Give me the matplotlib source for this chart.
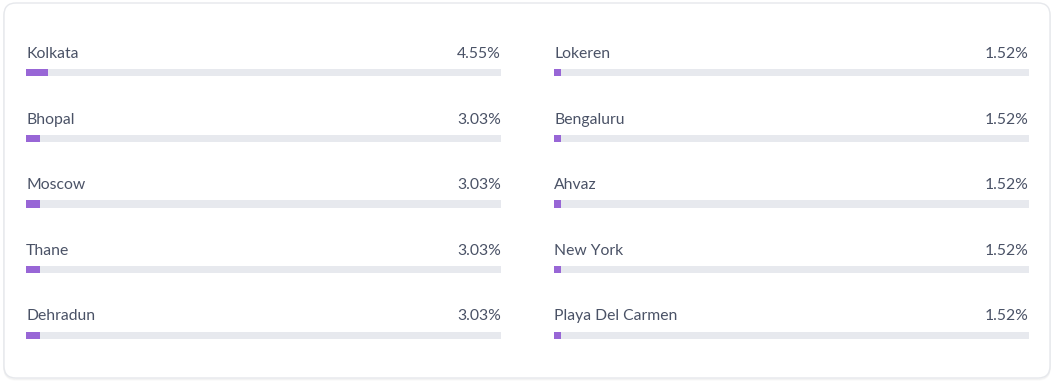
import matplotlib
matplotlib.use("Agg")
import matplotlib.pyplot as plt
from matplotlib.patches import FancyBboxPatch
from matplotlib.transforms import IdentityTransform

# data
left_cities = ["Kolkata", "Bhopal", "Moscow", "Thane", "Dehradun"]
left_share = [4.55, 3.03, 3.03, 3.03, 3.03]
right_cities = ["Lokeren", "Bengaluru", "Ahvaz", "New York", "Playa Del Carmen"]
right_share = [1.52, 1.52, 1.52, 1.52, 1.52]

W, H = 1055, 383
purple = "#9866D6"
track = "#E7E9EE"
txt = "#4A5266"

plt.rcParams['font.family'] = ['Lato', 'DejaVu Sans']

fig = plt.figure(figsize=(W / 100, H / 100), dpi=100)
fig.patch.set_facecolor("white")

# card with faint shadow
for off, a in [(2, 0.02), (1, 0.035)]:
    sh = FancyBboxPatch((4, 5 - off), 1046, 375, boxstyle="round,pad=0,rounding_size=12",
                        transform=IdentityTransform(), facecolor="none",
                        edgecolor=(0, 0, 0, a), linewidth=1.2, zorder=0)
    fig.patches.append(sh)
card = FancyBboxPatch((4, 5), 1046, 375, boxstyle="round,pad=0,rounding_size=12",
                      transform=IdentityTransform(), facecolor="white",
                      edgecolor="#E6E8EC", linewidth=1, zorder=0.5)
fig.patches.append(card)


def column(x0, cities, share):
    ax = fig.add_axes([x0 / W, (H - 368) / H, 475 / W, 328 / H])
    ax.set_zorder(2)
    ax.set_facecolor("none")
    ys = list(range(len(cities)))
    ax.barh(ys, [100] * len(cities), height=0.107, color=track, left=0)
    ax.barh(ys, share, height=0.107, color=purple, left=0)
    for y, c, s in zip(ys, cities, share):
        ax.text(0, y - 0.225, c, ha="left", va="baseline", fontsize=11.3, color=txt)
        ax.text(100, y - 0.225, f"{s:.2f}%", ha="right", va="baseline", fontsize=11.3, color=txt)
    ax.set_xlim(0, 100)
    ax.set_ylim(4.5, -0.5)
    ax.axis("off")
    return ax


column(26, left_cities, left_share)
column(554, right_cities, right_share)

fig.savefig("out.png", dpi=100)
